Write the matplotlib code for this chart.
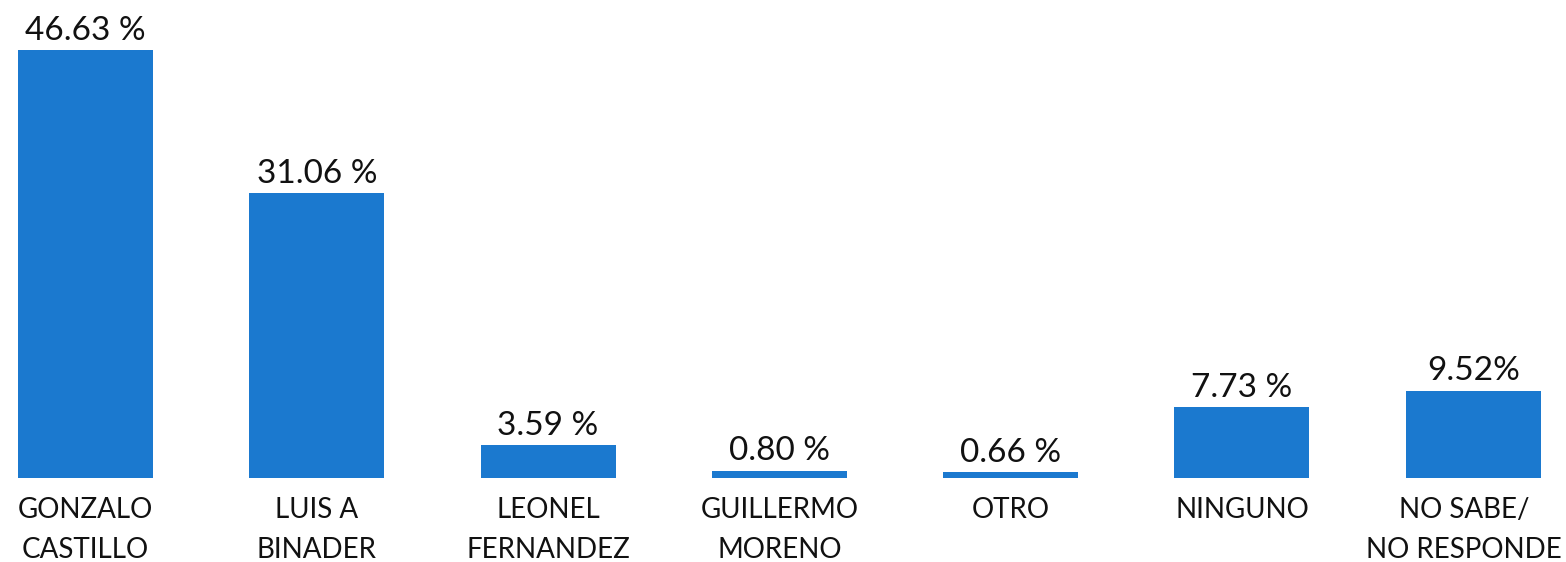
import matplotlib.pyplot as plt
import matplotlib.transforms as mtransforms

plt.rcParams['font.family'] = ['Lato', 'DejaVu Sans']

categories = ["GONZALO\nCASTILLO", "LUIS A\nBINADER", "LEONEL\nFERNANDEZ", "GUILLERMO\nMORENO",
              "OTRO", "NINGUNO", "NO SABE/\nNO RESPONDE"]
values = [46.63, 31.06, 3.59, 0.80, 0.66, 7.73, 9.52]
value_labels = ["46.63 %", "31.06 %", "3.59 %", "0.80 %", "0.66 %", "7.73 %", "9.52%"]

BAR_COLOR = '#1b79cf'

fig = plt.figure(figsize=(15.66, 5.62), dpi=100)
ax = fig.add_axes([0, 84 / 562, 1, 478 / 562])

x = list(range(len(categories)))
ax.bar(x, values, width=0.584, color=BAR_COLOR)

for xi, v, lab in zip(x, values, value_labels):
    ax.annotate(lab, (xi, v), xytext=(0, 3), textcoords='offset points',
                ha='center', va='bottom', fontsize=24, color='#111111')

ax.set_xlim(-0.3697, 6.401)
ax.set_ylim(0, 52.07)
ax.set_xticks(x)
ax.set_xticklabels(categories, fontsize=20, color='#111111', linespacing=1.65)
ax.tick_params(axis='x', length=0, pad=14)
ax.set_yticks([])
for s in ax.spines.values():
    s.set_visible(False)

# last label is wider than its slot, nudge it left so it stays inside the figure
last = ax.get_xticklabels()[-1]
last.set_transform(last.get_transform() + mtransforms.ScaledTranslation(-0.09, 0, fig.dpi_scale_trans))

fig.savefig('out.png', dpi=100)
